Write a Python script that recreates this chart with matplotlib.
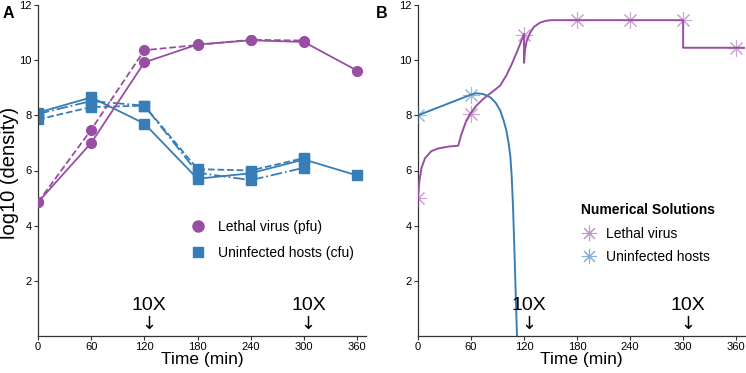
import numpy as np
import matplotlib
matplotlib.use("Agg")
import matplotlib.pyplot as plt
from matplotlib.lines import Line2D

plt.rcParams['font.family'] = ['Liberation Sans', 'DejaVu Sans']

PURPLE = "#984EA3"
BLUE = "#377EB8"

# A: experimental data (log10 density)
t_obs = [0, 60, 120, 180, 240, 300, 360]
virus_rep1 = [4.85, 7.0, 9.92, 10.57, 10.72, 10.66, 9.62]
virus_rep2 = [4.85, 7.48, 10.36, 10.55, 10.74, 10.71]
host_rep1 = [8.1, 8.65, 7.7, 5.7, 5.9, 6.4, 5.82]
host_rep2 = [7.85, 8.3, 8.35, 6.05, 6.0, 6.45]
host_rep3 = [8.05, 8.52, 8.35, 5.92, 5.65, 6.1]

# B: numerical solutions
t_virus_num = [0, 1.5, 4, 8, 15, 23, 35, 45.5, 49, 54, 59, 66, 74, 84, 93, 100, 106, 112,
               120, 120.01, 121, 123, 127, 131, 138, 144, 150, 160, 300, 300.01, 370]
virus_num = [5.0, 5.6, 6.1, 6.45, 6.7, 6.8, 6.87, 6.9, 7.3, 7.75, 8.05, 8.35, 8.6, 8.85,
             9.08, 9.45, 9.85, 10.3, 10.95, 9.9, 10.35, 10.7, 11.0, 11.2, 11.36, 11.42, 11.45,
             11.45, 11.45, 10.45, 10.45]
t_host_num = [0, 60, 66, 74, 82, 88, 93, 97, 100, 102.5, 104.5, 106, 107.5, 109, 110.5, 112]
host_num = [8.0, 8.75, 8.8, 8.77, 8.65, 8.45, 8.18, 7.8, 7.45, 7.0, 6.5, 5.8, 4.7, 3.2, 1.6, 0.0]

t_virus_mark = [0, 60, 120, 180, 240, 300, 360]
virus_mark = [5.0, 8.05, 10.9, 11.45, 11.45, 11.45, 10.45]
t_host_mark = [0, 60]
host_mark = [8.0, 8.75]

dose_times = [125, 305]
xticks = [0, 60, 120, 180, 240, 300, 360]
yticks = [2, 4, 6, 8, 10, 12]

W, H = 746, 373
fig = plt.figure(figsize=(W / 100, H / 100), dpi=100)
axA = fig.add_axes([38 / W, 1 - 336 / H, 328 / W, 331 / H])
axB = fig.add_axes([418 / W, 1 - 336 / H, 327 / W, 331 / H])


def style(ax):
    ax.set_xlim(0, 370)
    ax.set_ylim(0, 12)
    ax.set_xticks(xticks)
    ax.set_yticks(yticks)
    for s in ["top", "right"]:
        ax.spines[s].set_visible(False)
    for s in ["left", "bottom"]:
        ax.spines[s].set_color("#333333")
        ax.spines[s].set_linewidth(0.9)
    ax.tick_params(labelsize=8, length=3, width=0.8, color="#333333", pad=1.5)
    ax.set_xlabel("Time (min)", fontsize=12.5, labelpad=0)
    for t in dose_times:
        ax.text(t, 1.1, "10X", ha="center", va="center", fontsize=14)
        ax.text(t, 0.42, "\u2193", ha="center", va="center", fontsize=13, family="DejaVu Sans")


# --- panel A ---
ms_c, ms_s = 7, 6.5
axA.plot(t_obs, virus_rep1, "-", color=PURPLE, lw=1.3, marker="o", ms=ms_c, zorder=3)
axA.plot(t_obs[:6], virus_rep2, "--", color=PURPLE, lw=1.3, marker="o", ms=ms_c, zorder=3)
axA.plot(t_obs, host_rep1, "-", color=BLUE, lw=1.3, marker="s", ms=ms_s, zorder=2)
axA.plot(t_obs[:6], host_rep2, "--", color=BLUE, lw=1.3, marker="s", ms=ms_s, zorder=2)
axA.plot(t_obs[:6], host_rep3, "-.", color=BLUE, lw=1.3, marker="s", ms=ms_s, zorder=2)
style(axA)
fig.text(10 / W, 1 - 173 / H, "log10 (density)", rotation=90, fontsize=14.5,
         ha="center", va="center")

hA = [Line2D([], [], ls="", marker="o", color=PURPLE, ms=8),
      Line2D([], [], ls="", marker="s", color=BLUE, ms=7)]
axA.legend(hA, ["Lethal virus (pfu)", "Uninfected hosts (cfu)"], loc="center left",
           bbox_to_anchor=(0.425, 0.29), frameon=False, fontsize=10, handlelength=1.2,
           handletextpad=0.8, labelspacing=0.9)
fig.text(3 / W, 1 - 13 / H, "A", fontsize=11.5, fontweight="bold", va="center")

# --- panel B ---
axB.plot(t_virus_num, virus_num, "-", color=PURPLE, lw=1.4, zorder=3)
axB.plot(t_host_num, host_num, "-", color=BLUE, lw=1.4, zorder=2)
axB.plot(t_virus_mark, virus_mark, ls="", marker=(8, 2, 0), ms=12, mew=0.8,
         color=PURPLE, alpha=0.5, zorder=4)
axB.plot(t_host_mark, host_mark, ls="", marker=(8, 2, 0), ms=12, mew=0.8,
         color=BLUE, alpha=0.5, zorder=4)
style(axB)

hB = [Line2D([], [], ls="", marker=(8, 2, 0), color=PURPLE, alpha=0.6, ms=11, mew=0.8),
      Line2D([], [], ls="", marker=(8, 2, 0), color=BLUE, alpha=0.6, ms=11, mew=0.8)]
legB = axB.legend(hB, ["Lethal virus", "Uninfected hosts"], loc="upper left",
                  bbox_to_anchor=(0.46, 0.44), frameon=False, fontsize=10,
                  title="Numerical Solutions", handlelength=1.2, handletextpad=0.6,
                  labelspacing=0.7)
legB.get_title().set_fontweight("bold")
legB.get_title().set_fontsize(10)
legB._legend_box.align = "left"
fig.text(376 / W, 1 - 13 / H, "B", fontsize=11.5, fontweight="bold", va="center")

fig.savefig("out.png", dpi=100)
